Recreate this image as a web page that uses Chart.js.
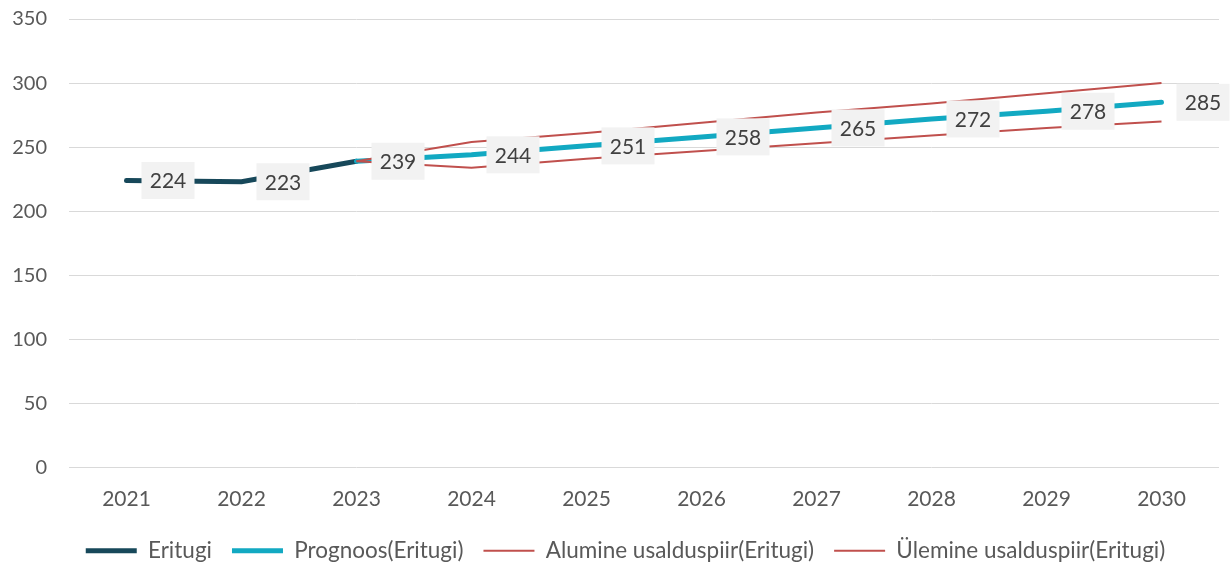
<!DOCTYPE html>
<html>
<head>
<meta charset="utf-8">
<script src="https://cdn.jsdelivr.net/npm/chart.js@4.4.1/dist/chart.umd.min.js"></script>
<style>
  html, body { margin: 0; padding: 0; background: #ffffff; }
  #wrap { width: 1230px; height: 563px; position: relative; }
</style>
</head>
<body>
<div id="wrap"><canvas id="c"></canvas></div>
<script>
const years = ['2021', '2022', '2023', '2024', '2025', '2026', '2027', '2028', '2029', '2030'];
const eritugi = [224, 223, 239, null, null, null, null, null, null, null];
const prognoos = [null, null, 239, 244, 251, 258, 265, 272, 278, 285];
const alumine = [null, null, 239, 234, 241, 247, 253, 259, 265, 270];
const ulemine = [null, null, 239, 254, 261, 269, 277, 284, 292, 300];
const yTicks = [0, 50, 100, 150, 200, 250, 300, 350];

const labelPlugin = {
  id: 'valueLabels',
  afterLayout(chart) {
    if (chart.legend) { chart.legend.left += 16; chart.legend.right += 16; }
  },
  afterDatasetsDraw(chart) {
    const ctx = chart.ctx;
    const xs = chart.scales.x, ys = chart.scales.y;
    ctx.save();
    ctx.font = '21px Lato';
    ctx.textAlign = 'center';
    ctx.textBaseline = 'middle';
    const items = [];
    eritugi.forEach((v, i) => { if (v !== null && prognoos[i] === null) items.push([i, v]); });
    prognoos.forEach((v, i) => { if (v !== null) items.push([i, v]); });
    items.forEach(([i, v]) => {
      const px = xs.getPixelForValue(i);
      const py = ys.getPixelForValue(v);
      const bx = px + 15, bw = 53, bh = 37;
      ctx.fillStyle = '#f2f2f2';
      ctx.fillRect(bx, py - bh / 2, bw, bh);
      ctx.fillStyle = '#404040';
      ctx.fillText(String(v), bx + bw / 2, py + 1);
    });
    ctx.restore();
  }
};

new Chart(document.getElementById('c'), {
  type: 'line',
  data: {
    labels: years,
    datasets: [
      { label: 'Ülemine usalduspiir(Eritugi)', data: ulemine, borderColor: '#c0504d', backgroundColor: '#c0504d', borderWidth: 2, pointRadius: 0, tension: 0 },
      { label: 'Alumine usalduspiir(Eritugi)', data: alumine, borderColor: '#c0504d', backgroundColor: '#c0504d', borderWidth: 2, pointRadius: 0, tension: 0 },
      { label: 'Prognoos(Eritugi)', data: prognoos, borderColor: '#12a9c2', backgroundColor: '#12a9c2', borderWidth: 5, borderCapStyle: 'round', pointRadius: 0, tension: 0 },
      { label: 'Eritugi', data: eritugi, borderColor: '#17485a', backgroundColor: '#17485a', borderWidth: 5, borderCapStyle: 'round', pointRadius: 0, tension: 0 }
    ]
  },
  options: {
    responsive: true,
    maintainAspectRatio: false,
    animation: false,
    layout: { padding: { left: 0, right: 11, top: 19, bottom: -9 } },
    plugins: {
      tooltip: { enabled: false },
      legend: {
        position: 'bottom',
        reverse: true,
        labels: {
          usePointStyle: true,
          pointStyle: 'line',
          pointStyleWidth: 51,
          boxHeight: 22,
          padding: 20,
          color: '#595959',
          font: { family: 'Lato', size: 22.5 }
        }
      }
    },
    scales: {
      x: {
        offset: true,
        afterFit(scale) { scale.height = 52; },
        grid: { display: false, drawTicks: false },
        border: { display: false },
        ticks: { color: '#595959', font: { family: 'Lato', size: 21 }, padding: 19, maxRotation: 0 }
      },
      y: {
        min: 0, max: 350,
        afterBuildTicks(scale) { scale.ticks = yTicks.map(v => ({ value: v })); },
        afterFit(scale) { scale.width = 69; scale.paddingTop = 0; scale.paddingBottom = 0; },
        grid: { color: '#d9d9d9', lineWidth: 1, drawTicks: false },
        border: { display: false },
        ticks: { color: '#595959', font: { family: 'Lato', size: 20 }, padding: 22 }
      }
    }
  },
  plugins: [labelPlugin]
});
</script>
</body>
</html>
